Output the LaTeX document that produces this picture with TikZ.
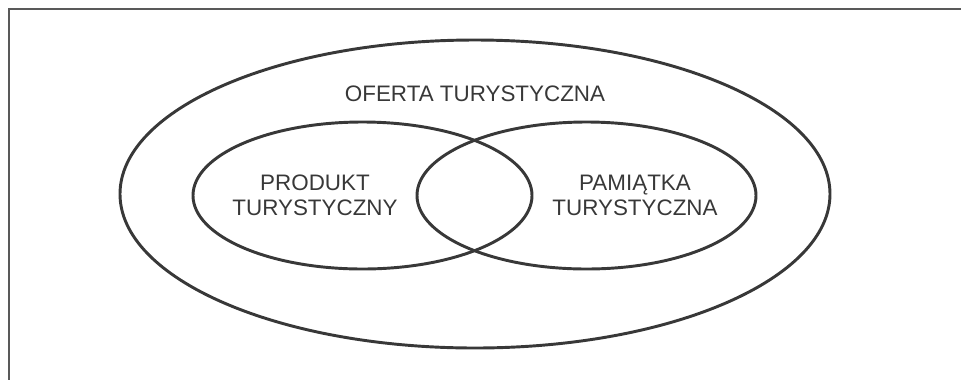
\documentclass[tikz,border=0pt]{standalone}
\usepackage{fontspec}
\setmainfont{Liberation Sans}

\begin{document}
\begin{tikzpicture}[x=0.75pt,y=-0.75pt,
  ring/.style={line width=2.2pt, draw=black!78},
  caption/.style={align=center, text=black!78, inner sep=0pt,
    font=\fontsize{16.8}{18.75}\selectfont}]

\useasboundingbox (0,0) rectangle (961,380);

% frame
\coordinate (tr) at (961,8.5);
\coordinate (tl) at (8.5,8.5);
\coordinate (bl) at (8.5,380);
\draw[line width=1.5pt, draw=black!65] (tr) -- (tl) -- (bl);

% sets
\coordinate (oferta) at (475,194);
\coordinate (produkt) at (362.5,195.5);
\coordinate (pamiatka) at (586.5,195.5);
\draw[ring] (oferta) ellipse [x radius=355, y radius=154];
\draw[ring] (produkt) ellipse [x radius=169.5, y radius=73.5];
\draw[ring] (pamiatka) ellipse [x radius=169.5, y radius=73.5];

\node[caption] (t_oferta) at (475,93.5) {OFERTA TURYSTYCZNA};
\node[caption] (t_produkt) at (315,195) {PRODUKT\\TURYSTYCZNY};
\node[caption] (t_pamiatka) at (635,195) {PAMIĄTKA\\TURYSTYCZNA};

\end{tikzpicture}
\end{document}
